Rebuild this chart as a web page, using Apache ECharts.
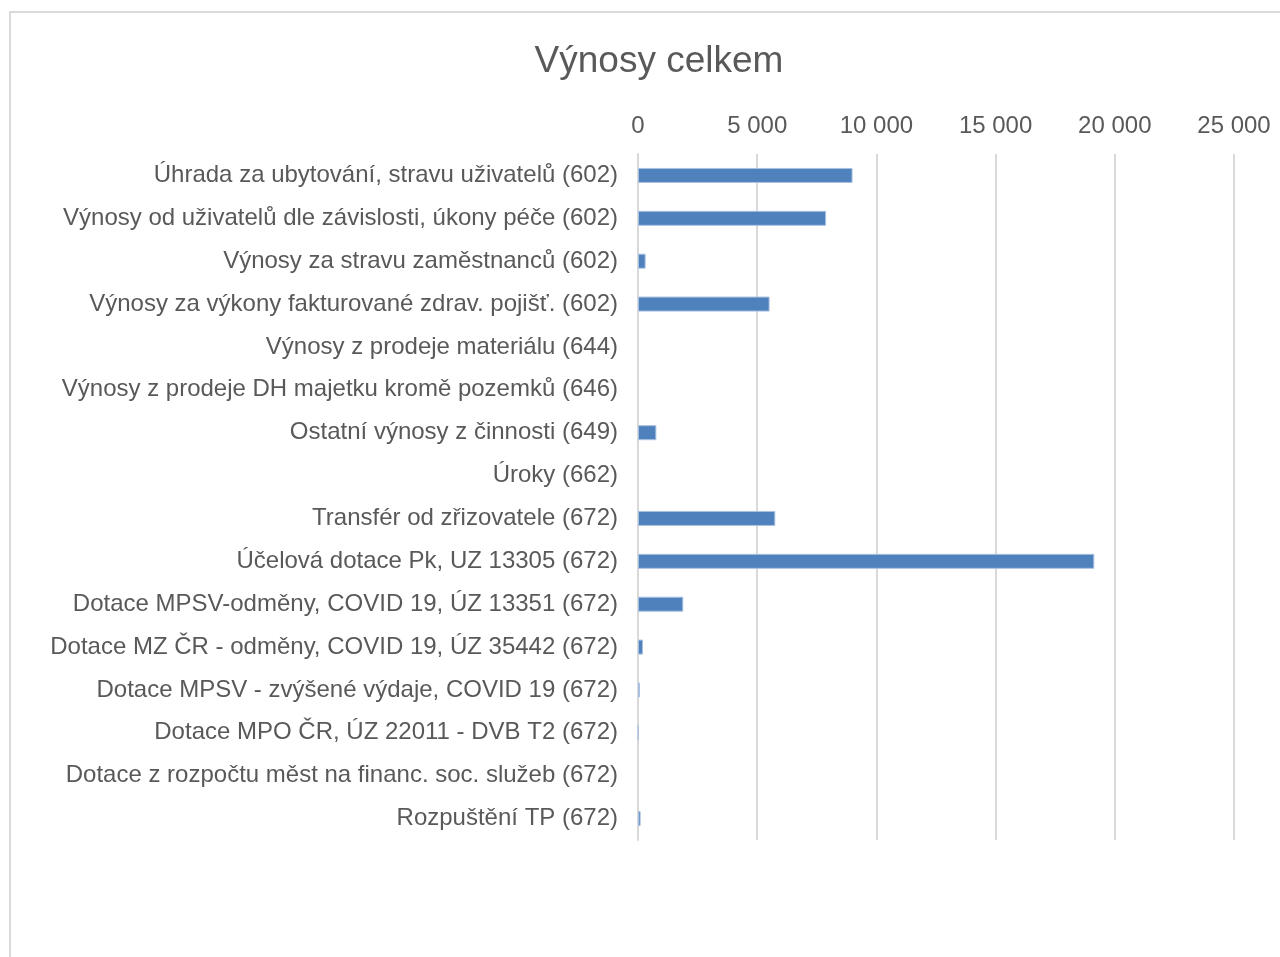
<!DOCTYPE html>
<html>
<head>
<meta charset="utf-8">
<script src="https://cdn.jsdelivr.net/npm/echarts@6/dist/echarts.min.js"></script>
<style>
html,body{margin:0;padding:0;background:#fff;}
#chart{position:absolute;left:0;top:0;width:1280px;height:957px;}
#frame{position:absolute;left:9px;top:11px;width:1290px;height:960px;border-left:2px solid #d9d9d9;border-top:2px solid #d9d9d9;pointer-events:none;}
</style>
</head>
<body>
<div id="chart"></div>
<div id="frame"></div>
<script>
const title = 'Výnosy celkem';
const categories = [
  'Úhrada za ubytování, stravu uživatelů (602)',
  'Výnosy od uživatelů dle závislosti, úkony péče (602)',
  'Výnosy za stravu zaměstnanců (602)',
  'Výnosy za výkony fakturované zdrav. pojišť. (602)',
  'Výnosy z prodeje materiálu (644)',
  'Výnosy z prodeje DH majetku kromě pozemků (646)',
  'Ostatní výnosy z činnosti (649)',
  'Úroky (662)',
  'Transfér od zřizovatele (672)',
  'Účelová dotace Pk, UZ 13305 (672)',
  'Dotace MPSV-odměny, COVID 19, ÚZ 13351 (672)',
  'Dotace MZ ČR - odměny, COVID 19, ÚZ 35442 (672)',
  'Dotace MPSV - zvýšené výdaje, COVID 19 (672)',
  'Dotace MPO ČR, ÚZ 22011 - DVB T2 (672)',
  'Dotace z rozpočtu měst na financ. soc. služeb (672)',
  'Rozpuštění TP (672)'
];
const values = [9000, 7890, 320, 5520, 0, 0, 770, 0, 5760, 19140, 1900, 210, 80, 15, 0, 110];
const axisMin = 0, axisMax = 25000, axisStep = 5000;

function fmt(v){ return String(v).replace(/\B(?=(\d{3})+(?!\d))/g, ' '); }

const seriesData = values.map(v => v === 0 ? {value: v, itemStyle: {borderWidth: 0}} : v);

const chart = echarts.init(document.getElementById('chart'), null, {renderer:'canvas'});
chart.setOption({
  backgroundColor:'#fff',
  animation:false,
  title:{
    text:title, left:654, top:38, textAlign:'center',
    textStyle:{fontFamily:'Liberation Sans, Arial, sans-serif', fontSize:37, fontWeight:'normal', color:'#595959'}
  },
  grid:{left:638, right:46, top:154, bottom:117, containLabel:false},
  xAxis:{
    type:'value', position:'top', min:axisMin, max:axisMax, interval:axisStep,
    axisLine:{show:false}, axisTick:{show:false},
    splitLine:{lineStyle:{color:'#d9d9d9', width:2}},
    axisLabel:{formatter:fmt, margin:16, fontFamily:'Liberation Sans, Arial, sans-serif', fontSize:24, color:'#595959'}
  },
  yAxis:{
    type:'category', data:categories, inverse:true,
    axisLine:{lineStyle:{color:'#d9d9d9', width:2}}, axisTick:{show:false},
    axisLabel:{margin:20, fontFamily:'Liberation Sans, Arial, sans-serif', fontSize:24, color:'#595959'}
  },
  series:[{
    type:'bar', data:seriesData, barWidth:15,
    itemStyle:{color:'#4f81bd', borderColor:'#a9c1e0', borderWidth:1}
  }]
});
</script>
</body>
</html>
